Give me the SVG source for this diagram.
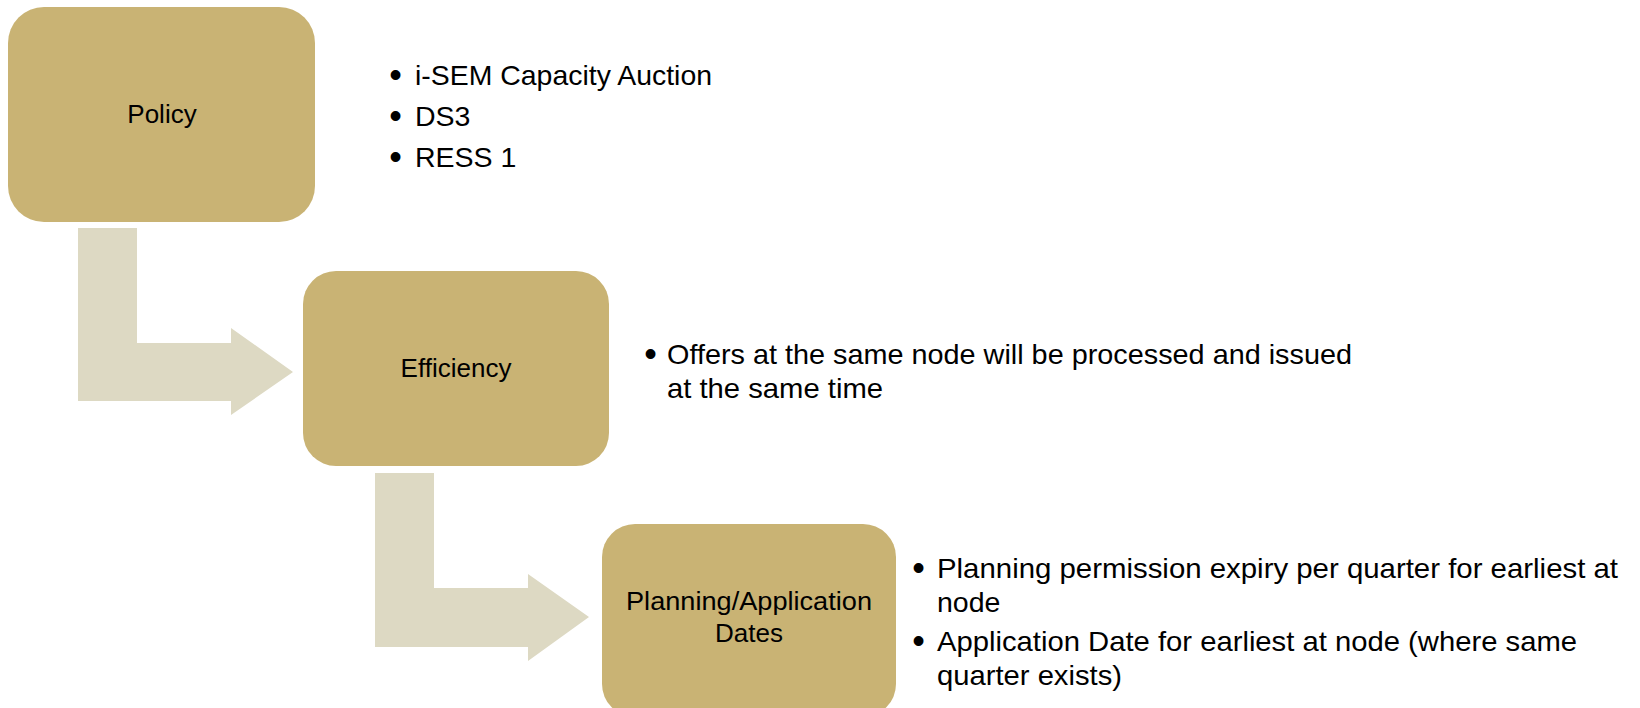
<svg xmlns="http://www.w3.org/2000/svg" width="1640" height="708" viewBox="0 0 1640 708">
  <style>
    .box { fill: #C9B374; }
    .flow { fill: #DDD9C3; }
    .label { font-family: "Liberation Sans", Arial, sans-serif; font-size: 26px; fill: #000; text-anchor: middle; }
    .item { font-family: "Liberation Sans", Arial, sans-serif; font-size: 28.5px; fill: #000; }
    .dot { font-family: "Liberation Sans", Arial, sans-serif; font-size: 36px; fill: #000; text-anchor: middle; }
  </style>

  <rect width="1640" height="708" fill="#FFFFFF"/>

  <!-- bent arrows linking the stages -->
  <g id="connectors">
    <path class="flow" d="M78,228 H137 V343 H231 V328 L293,372 L231,415 V401 H78 Z"/>
    <path class="flow" d="M375,473 H434 V588 H528 V574 L589,617 L528,661 V647 H375 Z"/>
  </g>

  <!-- stage 1 -->
  <g id="policy">
    <rect class="box" x="8" y="7" width="307" height="215" rx="36" ry="36"/>
    <text class="label" x="162" y="123">Policy</text>
  </g>
  <g id="policy-notes">
    <text class="dot" x="395.5" y="87">•</text>
    <text class="item" x="415" y="85" textLength="297" lengthAdjust="spacingAndGlyphs">i-SEM Capacity Auction</text>
    <text class="dot" x="395.5" y="128">•</text>
    <text class="item" x="415" y="126">DS3</text>
    <text class="dot" x="395.5" y="169">•</text>
    <text class="item" x="415" y="167">RESS 1</text>
  </g>

  <!-- stage 2 -->
  <g id="efficiency">
    <rect class="box" x="303" y="271" width="306" height="195" rx="33" ry="33"/>
    <text class="label" x="456" y="377">Efficiency</text>
  </g>
  <g id="efficiency-notes">
    <text class="dot" x="650.5" y="366">•</text>
    <text class="item" x="667" y="364" textLength="685" lengthAdjust="spacingAndGlyphs">Offers at the same node will be processed and issued</text>
    <text class="item" x="667" y="398" textLength="216" lengthAdjust="spacingAndGlyphs">at the same time</text>
  </g>

  <!-- stage 3 -->
  <g id="planning">
    <rect class="box" x="602" y="524" width="294" height="193" rx="33" ry="33"/>
    <text class="label" x="749" y="610" textLength="246" lengthAdjust="spacingAndGlyphs">Planning/Application</text>
    <text class="label" x="749" y="642">Dates</text>
  </g>
  <g id="planning-notes">
    <text class="dot" x="918.5" y="580">•</text>
    <text class="item" x="937" y="578" textLength="681" lengthAdjust="spacingAndGlyphs">Planning permission expiry per quarter for earliest at</text>
    <text class="item" x="937" y="612">node</text>
    <text class="dot" x="918.5" y="653">•</text>
    <text class="item" x="937" y="651" textLength="640" lengthAdjust="spacingAndGlyphs">Application Date for earliest at node (where same</text>
    <text class="item" x="937" y="685" textLength="185" lengthAdjust="spacingAndGlyphs">quarter exists)</text>
  </g>
</svg>
